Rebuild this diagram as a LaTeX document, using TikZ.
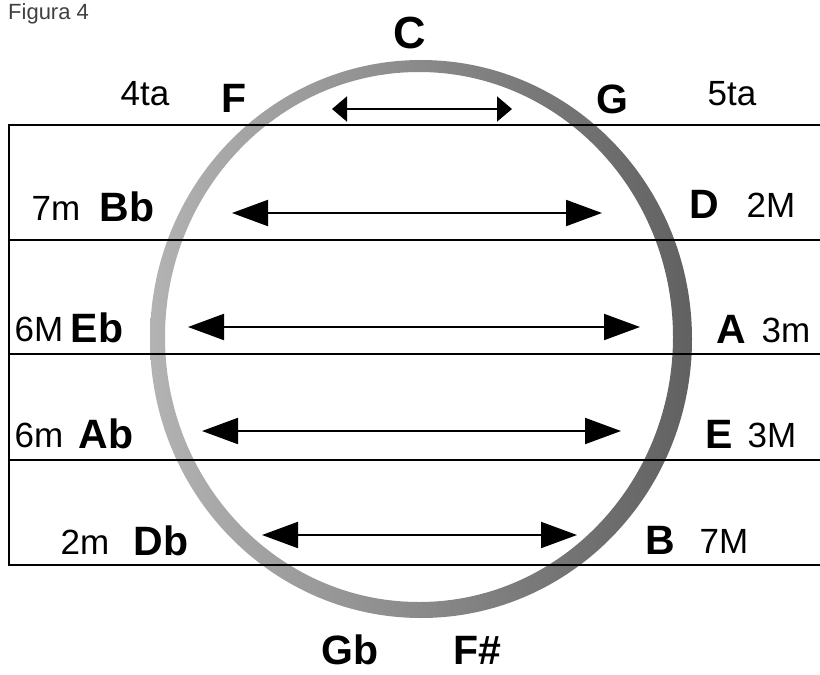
\documentclass[tikz,border=0pt]{standalone}
\usepackage{fontspec}
\setmainfont{Liberation Sans}
\usetikzlibrary{arrows.meta}

\tikzset{
  note/.style={font=\fontsize{41}{45}\selectfont\bfseries, inner sep=0pt},
  interval/.style={font=\fontsize{35}{40}\selectfont, inner sep=0pt},
  staff/.style={line width=2pt, black},
  bigarrow/.style={line width=2pt, {Triangle[length=36pt,width=26pt]}-{Triangle[length=36pt,width=26pt]}},
  smallarrow/.style={line width=2pt, {Triangle[length=15pt,width=25pt]}-{Triangle[length=15pt,width=25pt]}},
}

\begin{document}
\begin{tikzpicture}[x=1pt,y=-1pt]
\useasboundingbox (0,0) rectangle (820,675);

% caption
\node[anchor=base west, inner sep=0pt, text=black!75, font=\fontsize{22}{26}\selectfont] (cap) at (8,19) {Figura 4};

% the circle of fifths ring, lighter on the left and darker on the right
\shade[even odd rule, left color=black!30, right color=black!62]
  (421,339) ellipse [x radius=271, y radius=279]
  (419,337) ellipse [x radius=254, y radius=265];

% staff lines
\draw[staff] (820,125) -- (8.5,125) -- (8.5,564.5) -- (820,564.5);
\draw[staff] (8.5,239.5) -- (820,239.5);
\draw[staff] (8.5,354) -- (820,354);
\draw[staff] (8.5,460) -- (820,460);

% arrow end points
\coordinate (a0l) at (332,109); \coordinate (a0r) at (512,109);
\coordinate (a1l) at (232,213); \coordinate (a1r) at (602,213);
\coordinate (a2l) at (188,327); \coordinate (a2r) at (640,327);
\coordinate (a3l) at (202,431); \coordinate (a3r) at (621,431);
\coordinate (a4l) at (262,535); \coordinate (a4r) at (577,535);

\draw[smallarrow] (a0l) -- (a0r);
\draw[bigarrow] (a1l) -- (a1r);
\draw[bigarrow] (a2l) -- (a2r);
\draw[bigarrow] (a3l) -- (a3r);
\draw[bigarrow] (a4l) -- (a4r);

% note names
\node[note, font=\fontsize{45}{48}\selectfont\bfseries] (nC) at (410,33) {C};
\node[note] (nF)  at (234,98)  {F};
\node[note] (nG)  at (612,99)  {G};
\node[note] (nBb) at (127,207) {Bb};
\node[note] (nD)  at (704,204) {D};
\node[note] (nEb) at (97,328)  {Eb};
\node[note] (nA)  at (731,329) {A};
\node[note] (nAb) at (106,434) {Ab};
\node[note] (nE)  at (719,434) {E};
\node[note] (nDb) at (161,541) {Db};
\node[note] (nB)  at (660,540) {B};
\node[note] (nGb) at (350,650) {Gb};
\node[note] (nFs) at (477,650) {F\#};

% interval labels
\node[interval] (i4)  at (145,94)  {4ta};
\node[interval] (i5)  at (732,94)  {5ta};
\node[interval] (i7m) at (56,208)  {7m};
\node[interval] (i2M) at (771,205) {2M};
\node[interval] (i6M) at (39,329)  {6M};
\node[interval] (i3m) at (786,330) {3m};
\node[interval] (i6m) at (39,435)  {6m};
\node[interval] (i3M) at (772,435) {3M};
\node[interval] (i2m) at (85,542)  {2m};
\node[interval] (i7M) at (724,541) {7M};
\end{tikzpicture}
\end{document}
